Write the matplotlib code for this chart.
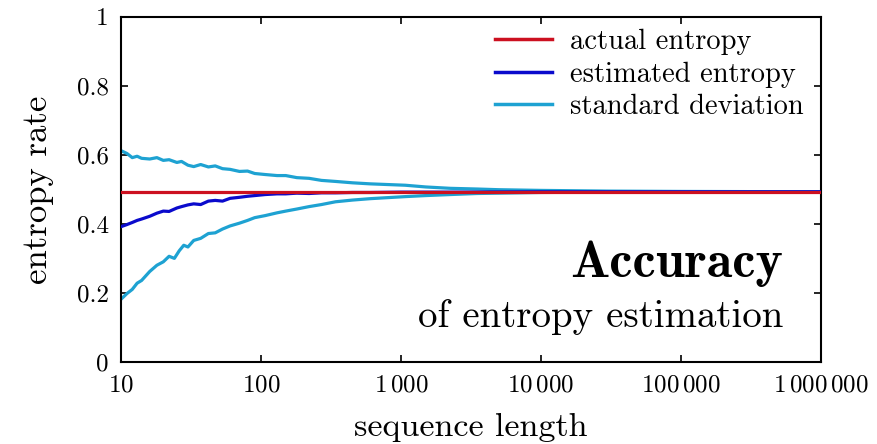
import matplotlib.pyplot as plt

plt.rcParams['font.family'] = 'cmr10'
plt.rcParams['mathtext.fontset'] = 'cm'
plt.rcParams['axes.unicode_minus'] = False

# values
n_hi = [10, 11, 12, 13, 14, 16, 18, 20, 22, 25, 27, 30, 33, 37, 42, 47, 53, 60, 70, 80, 90,
        107, 130, 150, 180, 220, 270, 340, 450, 600, 800, 1070, 1500, 2250, 3500, 5000,
        10000, 30000, 100000, 1000000]
std_hi = [0.612, 0.604, 0.592, 0.596, 0.590, 0.588, 0.592, 0.584, 0.586, 0.578, 0.581, 0.570,
          0.566, 0.572, 0.565, 0.568, 0.560, 0.558, 0.552, 0.553, 0.546, 0.543, 0.540, 0.540,
          0.534, 0.532, 0.526, 0.523, 0.519, 0.516, 0.514, 0.512, 0.507, 0.503, 0.501, 0.499,
          0.497, 0.495, 0.494, 0.493]

n_est = [10, 11, 12, 13, 14, 16, 18, 20, 22, 25, 27, 30, 33, 37, 42, 47, 53, 60, 70, 80, 90,
         107, 130, 150, 180, 220, 270, 340, 450, 600, 1000, 3000, 10000, 1000000]
est = [0.392, 0.398, 0.404, 0.410, 0.414, 0.422, 0.431, 0.437, 0.436, 0.446, 0.450, 0.455,
       0.458, 0.456, 0.466, 0.468, 0.466, 0.474, 0.477, 0.480, 0.482, 0.485, 0.487, 0.487,
       0.489, 0.488, 0.490, 0.490, 0.491, 0.491, 0.492, 0.492, 0.493, 0.493]

n_lo = [10, 11, 12, 13, 14, 16, 18, 20, 22, 24, 26, 28, 30, 33, 37, 42, 47, 53, 60, 70, 80, 90,
        107, 130, 150, 180, 220, 270, 340, 450, 600, 800, 1070, 1500, 2250, 3500, 5000,
        10000, 30000, 100000, 1000000]
std_lo = [0.182, 0.198, 0.210, 0.228, 0.236, 0.262, 0.280, 0.290, 0.306, 0.300, 0.322, 0.338,
          0.333, 0.352, 0.358, 0.372, 0.374, 0.385, 0.394, 0.402, 0.410, 0.418, 0.424, 0.432,
          0.437, 0.443, 0.450, 0.456, 0.464, 0.469, 0.473, 0.476, 0.479, 0.482, 0.485, 0.488,
          0.489, 0.491, 0.492, 0.493, 0.493]

actual = 0.493

xticks = [10, 100, 1000, 10000, 100000, 1000000]
xlabels = ['$10$', '$100$', r'$1\,000$', r'$10\,000$', r'$100\,000$', r'$1\,000\,000$']
yticks = [0, 0.2, 0.4, 0.6, 0.8, 1]
ylabels = ['0', '0.2', '0.4', '0.6', '0.8', '1']

red = '#cc1020'
dblue = '#0a0acc'
lblue = '#1ea2d2'

fig = plt.figure(figsize=(8.78, 4.44), dpi=100)
ax = fig.add_axes([0.138, 0.185, 0.797, 0.777])

ax.plot(n_hi, std_hi, color=lblue, lw=2.3, zorder=2)
ax.plot(n_lo, std_lo, color=lblue, lw=2.3, zorder=2)
ax.plot(n_est, est, color=dblue, lw=2.3, zorder=3)
ax.axhline(actual, color=red, lw=2.3, zorder=4)

h1, = ax.plot([], [], color=red, lw=2.5)
h2, = ax.plot([], [], color=dblue, lw=2.5)
h3, = ax.plot([], [], color=lblue, lw=2.5)
ax.legend([h1, h2, h3], ['actual entropy', 'estimated entropy', 'standard deviation'],
          loc='upper right', bbox_to_anchor=(1.012, 1.04), frameon=False, fontsize=20.5,
          handlelength=2.0, handletextpad=0.65, labelspacing=0.22)

ax.set_xscale('log')
ax.set_xlim(10, 1000000)
ax.set_ylim(0, 1)
ax.set_xticks(xticks)
ax.set_xticklabels(xlabels)
ax.set_yticks(yticks)
ax.set_yticklabels(ylabels)
ax.minorticks_off()
ax.tick_params(direction='in', length=5, width=1.2, top=True, right=True,
               labelsize=18, pad=9)
for s in ax.spines.values():
    s.set_linewidth(1.5)

ax.set_xlabel('sequence length', fontsize=24.5, labelpad=12)
ax.set_ylabel('entropy rate', fontsize=25, labelpad=16)

ax.text(0.946, 0.246, 'Accuracy', transform=ax.transAxes, ha='right', va='baseline',
        fontsize=37.5, family='cmb10')
ax.text(0.946, 0.101, 'of entropy estimation', transform=ax.transAxes, ha='right',
        va='baseline', fontsize=28)

fig.savefig('out.png', dpi=100)
